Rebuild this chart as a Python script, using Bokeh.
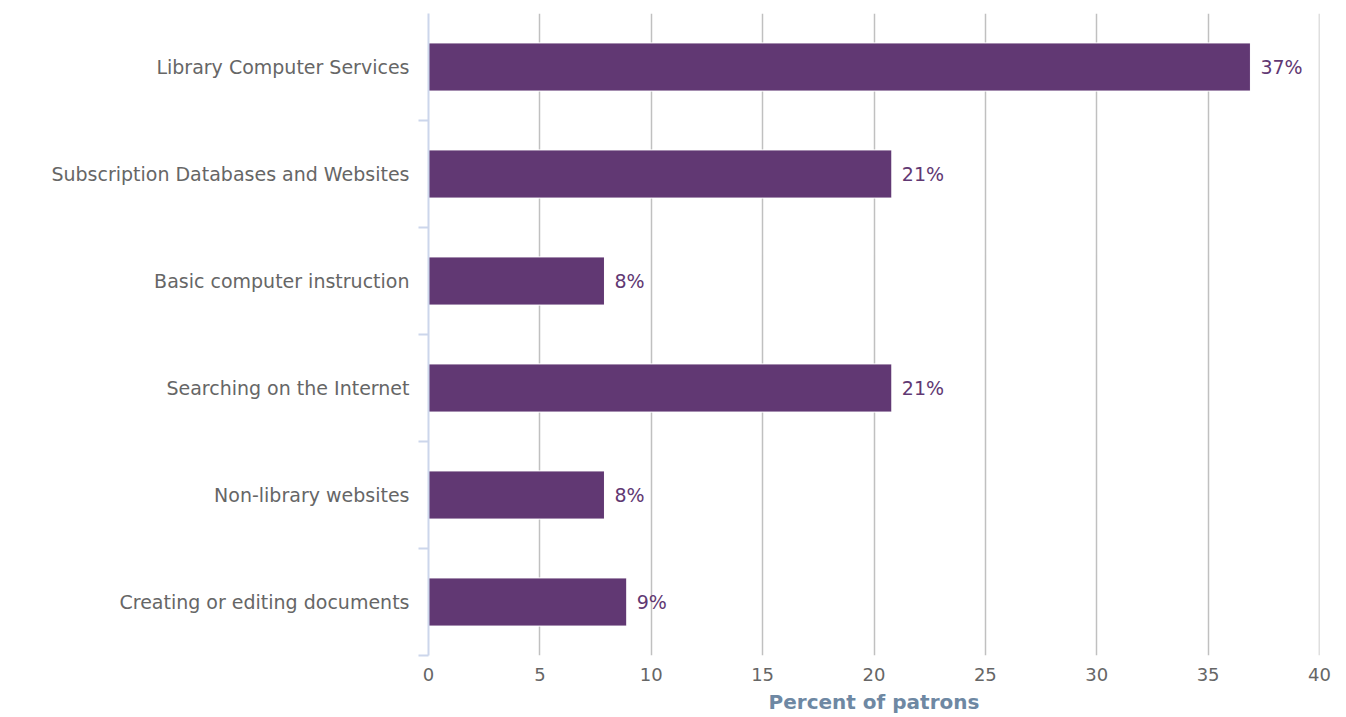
from bokeh.plotting import figure
from bokeh.models import ColumnDataSource, FixedTicker, Range1d, Span
from bokeh.embed import file_html
from bokeh.resources import INLINE
from bokeh.core.properties import value

categories = [
    "Library Computer Services",
    "Subscription Databases and Websites",
    "Basic computer instruction",
    "Searching on the Internet",
    "Non-library websites",
    "Creating or editing documents",
]
values = [36.9, 20.8, 7.9, 20.8, 7.9, 8.9]
labels = ["37%", "21%", "8%", "21%", "8%", "9%"]
x_ticks = [0, 5, 10, 15, 20, 25, 30, 35, 40]

n = len(categories)
ypos = [n - i - 0.5 for i in range(n)]

src = ColumnDataSource(dict(y=ypos, v=values, lab=labels))

p = figure(width=1338, height=716, output_backend="svg", toolbar_location=None,
           x_range=Range1d(0, 40), y_range=Range1d(0, n),
           min_border_left=428, min_border_right=19, min_border_top=13, min_border_bottom=0)
p.outline_line_color = None
p.background_fill_color = "white"

p.xgrid.grid_line_color = "#c0c0c0"
p.xgrid.grid_line_width = 1.5
p.ygrid.grid_line_color = None
p.add_layout(Span(location=x_ticks[-1], dimension="height", line_color="#c0c0c0",
                  line_width=1.5, level="underlay"))

bar_color = "#613873"
p.hbar(y="y", right="v", left=0, height=0.45, source=src, fill_color=bar_color,
       line_color="#ffffff", line_width=1)
p.text(x="v", y="y", text="lab", source=src, x_offset=10, text_baseline="middle",
       text_align="left", text_color=bar_color, text_font=value("DejaVu Sans"),
       text_font_size="19px")

# x axis
xa = p.xaxis[0]
xa.ticker = FixedTicker(ticks=x_ticks)
xa.axis_line_color = None
xa.major_tick_line_color = None
xa.minor_tick_line_color = None
xa.major_label_text_font = "DejaVu Sans"
xa.major_label_text_font_size = "18px"
xa.major_label_text_color = "#666666"
xa.major_label_standoff = 6
xa.axis_label = "Percent of patrons"
xa.axis_label_text_font = "DejaVu Sans"
xa.axis_label_text_font_style = "bold"
xa.axis_label_text_font_size = "20px"
xa.axis_label_text_color = "#6e88a3"
xa.axis_label_standoff = 6

# y axis
ya = p.yaxis[0]
ya.ticker = FixedTicker(ticks=ypos, minor_ticks=list(range(n)))
ya.major_label_overrides = {y: c for y, c in zip(ypos, categories)}
ya.axis_line_color = "#ccd6eb"
ya.axis_line_width = 2
ya.major_tick_line_color = None
ya.major_tick_out = 0
ya.major_tick_in = 0
ya.minor_tick_line_color = "#ccd6eb"
ya.minor_tick_line_width = 2
ya.minor_tick_out = 10
ya.minor_tick_in = 0
ya.major_label_text_font = "DejaVu Sans"
ya.major_label_text_font_size = "19px"
ya.major_label_text_color = "#666666"
ya.major_label_standoff = 9

open("out.html", "w").write(file_html(p, INLINE))
